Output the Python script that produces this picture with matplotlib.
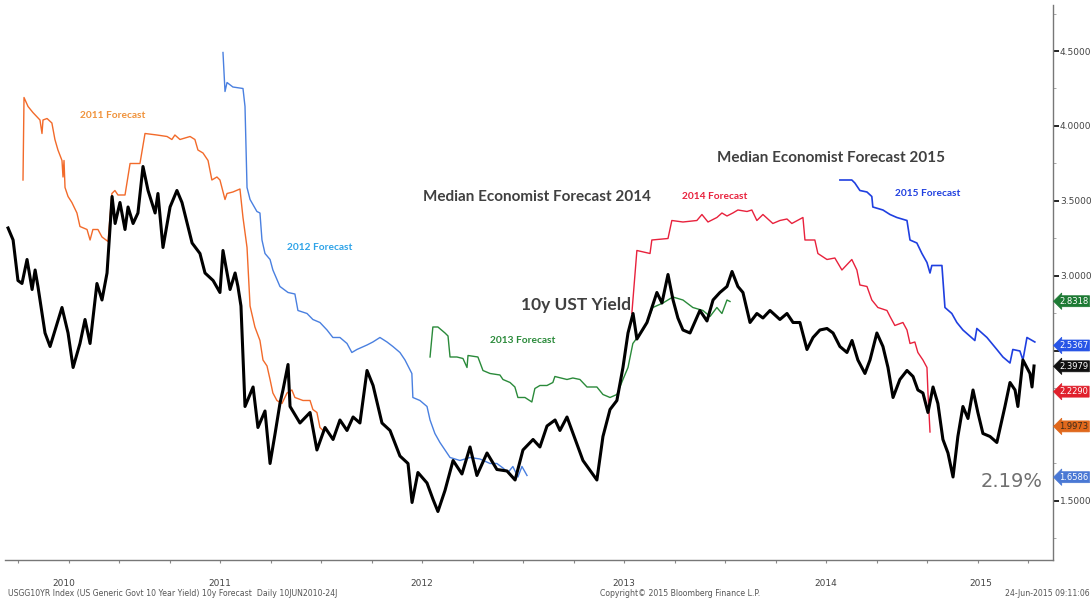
import numpy as np
import matplotlib
matplotlib.use("Agg")
import matplotlib.pyplot as plt

# dates as decimal years, values in percent
ust_t = [2010.450, 2010.475, 2010.499, 2010.519, 2010.544, 2010.569, 2010.584, 2010.598,
         2010.633, 2010.658, 2010.683, 2010.717, 2010.747, 2010.772, 2010.806, 2010.831,
         2010.856, 2010.890, 2010.915, 2010.940, 2010.965, 2010.980, 2011.004, 2011.029,
         2011.044, 2011.069, 2011.093, 2011.118, 2011.143, 2011.178, 2011.192, 2011.217,
         2011.252, 2011.286, 2011.311, 2011.361, 2011.400, 2011.425, 2011.465, 2011.499,
         2011.514, 2011.549, 2011.574, 2011.588, 2011.603, 2011.623, 2011.663, 2011.687,
         2011.722, 2011.747, 2011.772, 2011.796, 2011.811, 2011.836, 2011.846, 2011.895,
         2011.945, 2011.979, 2012.019, 2012.059, 2012.093, 2012.128, 2012.158, 2012.192,
         2012.227, 2012.257, 2012.301, 2012.341, 2012.390, 2012.430, 2012.450, 2012.479,
         2012.524, 2012.554, 2012.578, 2012.613, 2012.653, 2012.697, 2012.737, 2012.771,
         2012.821, 2012.870, 2012.920, 2012.960, 2012.999, 2013.049, 2013.083, 2013.118,
         2013.158, 2013.182, 2013.217, 2013.247, 2013.296, 2013.365, 2013.395, 2013.430,
         2013.464, 2013.494, 2013.519, 2013.544, 2013.563, 2013.613, 2013.662, 2013.687,
         2013.717, 2013.742, 2013.766, 2013.791, 2013.826, 2013.875, 2013.910, 2013.940,
         2013.974, 2014.009, 2014.034, 2014.063, 2014.088, 2014.123, 2014.157, 2014.187,
         2014.222, 2014.271, 2014.306, 2014.336, 2014.370, 2014.405, 2014.435, 2014.469,
         2014.504, 2014.534, 2014.568, 2014.603, 2014.628, 2014.657, 2014.692, 2014.717,
         2014.751, 2014.781, 2014.806, 2014.831, 2014.865, 2014.900, 2014.930, 2014.954,
         2014.979, 2015.004, 2015.029, 2015.053, 2015.078, 2015.103, 2015.128, 2015.152,
         2015.177, 2015.202, 2015.227, 2015.251, 2015.276, 2015.311, 2015.345, 2015.360,
         2015.385, 2015.410, 2015.435, 2015.449, 2015.474, 2015.509, 2015.519, 2015.529]
ust_v = [3.32, 3.24, 2.97, 2.95, 3.11, 2.91, 3.04, 2.93,
         2.62, 2.53, 2.64, 2.79, 2.62, 2.39, 2.55, 2.71,
         2.55, 2.95, 2.84, 3.02, 3.53, 3.35, 3.49, 3.31,
         3.46, 3.35, 3.42, 3.73, 3.57, 3.42, 3.55, 3.19,
         3.46, 3.57, 3.49, 3.22, 3.15, 3.02, 2.97, 2.89,
         3.17, 2.91, 3.02, 2.93, 2.80, 2.13, 2.26, 1.99,
         2.10, 1.75, 1.95, 2.15, 2.24, 2.41, 2.13, 2.02,
         2.09, 1.84, 1.99, 1.91, 2.04, 1.97, 2.06, 2.02,
         2.37, 2.27, 2.02, 1.97, 1.80, 1.75, 1.49, 1.69,
         1.62, 1.51, 1.43, 1.57, 1.77, 1.68, 1.86, 1.67,
         1.82, 1.71, 1.70, 1.64, 1.84, 1.91, 1.86, 2.00,
         2.04, 1.97, 2.06, 1.95, 1.77, 1.64, 1.93, 2.11,
         2.17, 2.39, 2.62, 2.75, 2.58, 2.69, 2.89, 2.82,
         3.01, 2.84, 2.72, 2.64, 2.62, 2.77, 2.70, 2.84,
         2.89, 2.93, 3.03, 2.93, 2.89, 2.69, 2.75, 2.72,
         2.77, 2.71, 2.75, 2.69, 2.69, 2.51, 2.59, 2.64,
         2.65, 2.62, 2.53, 2.49, 2.57, 2.44, 2.35, 2.44,
         2.62, 2.53, 2.39, 2.19, 2.31, 2.37, 2.33, 2.24,
         2.22, 2.09, 2.26, 2.15, 1.91, 1.82, 1.66, 1.93,
         2.13, 2.05, 2.24, 2.09, 1.95, 1.93, 1.89, 1.98,
         2.13, 2.29, 2.24, 2.13, 2.44, 2.35, 2.26, 2.40]

f2011_t = [2010.524, 2010.529, 2010.549, 2010.573, 2010.608, 2010.618, 2010.623, 2010.643,
           2010.667, 2010.682, 2010.697, 2010.717, 2010.722, 2010.727, 2010.732, 2010.747,
           2010.766, 2010.791, 2010.806, 2010.841, 2010.856, 2010.870, 2010.895, 2010.915,
           2010.945, 2010.964, 2010.979, 2010.994, 2011.029, 2011.054, 2011.103, 2011.128,
           2011.187, 2011.237, 2011.261, 2011.276, 2011.301, 2011.351, 2011.375, 2011.390,
           2011.415, 2011.440, 2011.459, 2011.484, 2011.499, 2011.524, 2011.534, 2011.563,
           2011.598, 2011.613, 2011.633, 2011.648, 2011.672, 2011.697, 2011.712, 2011.732,
           2011.747, 2011.761, 2011.781, 2011.806, 2011.831, 2011.855, 2011.870, 2011.910,
           2011.945, 2011.959, 2011.979, 2011.994, 2012.009]
f2011_v = [3.64, 4.19, 4.13, 4.09, 4.04, 3.95, 4.04, 4.05,
           4.02, 3.91, 3.84, 3.77, 3.66, 3.77, 3.59, 3.53,
           3.49, 3.42, 3.33, 3.31, 3.24, 3.31, 3.31, 3.26,
           3.23, 3.55, 3.57, 3.54, 3.54, 3.75, 3.75, 3.95,
           3.94, 3.93, 3.91, 3.94, 3.91, 3.93, 3.91, 3.84,
           3.82, 3.77, 3.64, 3.66, 3.64, 3.51, 3.55, 3.56,
           3.58, 3.39, 3.19, 2.80, 2.66, 2.57, 2.44, 2.40,
           2.31, 2.22, 2.17, 2.15, 2.22, 2.24, 2.19, 2.17,
           2.17, 2.11, 2.09, 1.99, 1.97]

f2012_t = [2011.514, 2011.524, 2011.534, 2011.563, 2011.613, 2011.623, 2011.633, 2011.648,
           2011.682, 2011.697, 2011.707, 2011.722, 2011.747, 2011.761, 2011.796, 2011.836,
           2011.870, 2011.885, 2011.930, 2011.959, 2011.994, 2012.029, 2012.058, 2012.093,
           2012.128, 2012.152, 2012.177, 2012.227, 2012.256, 2012.291, 2012.326, 2012.355,
           2012.390, 2012.415, 2012.449, 2012.454, 2012.489, 2012.524, 2012.539, 2012.563,
           2012.588, 2012.623, 2012.638, 2012.687, 2012.737, 2012.786, 2012.836, 2012.870,
           2012.900, 2012.925, 2012.949, 2012.974, 2012.994, 2013.019]
f2012_v = [4.49, 4.23, 4.29, 4.26, 4.25, 4.13, 3.59, 3.51,
           3.43, 3.42, 3.24, 3.15, 3.11, 3.04, 2.93, 2.89,
           2.88, 2.77, 2.75, 2.71, 2.69, 2.64, 2.59, 2.59,
           2.55, 2.49, 2.51, 2.54, 2.56, 2.59, 2.56, 2.53,
           2.49, 2.44, 2.35, 2.19, 2.17, 2.13, 2.04, 1.95,
           1.89, 1.82, 1.79, 1.77, 1.79, 1.78, 1.75, 1.75,
           1.72, 1.69, 1.73, 1.66, 1.73, 1.67]

f2013_t = [2012.539, 2012.553, 2012.578, 2012.613, 2012.628, 2012.638, 2012.672, 2012.702,
           2012.722, 2012.727, 2012.776, 2012.801, 2012.836, 2012.885, 2012.900, 2012.935,
           2012.959, 2012.974, 2013.009, 2013.043, 2013.058, 2013.083, 2013.118, 2013.147,
           2013.157, 2013.217, 2013.246, 2013.281, 2013.316, 2013.365, 2013.395, 2013.430,
           2013.464, 2013.494, 2013.519, 2013.543, 2013.593, 2013.613, 2013.642, 2013.692,
           2013.741, 2013.791, 2013.840, 2013.890, 2013.925, 2013.959, 2013.984, 2014.009,
           2014.024]
f2013_v = [2.46, 2.66, 2.66, 2.62, 2.60, 2.46, 2.46, 2.45,
           2.39, 2.47, 2.46, 2.37, 2.35, 2.34, 2.31, 2.29,
           2.26, 2.19, 2.19, 2.16, 2.25, 2.27, 2.27, 2.29,
           2.33, 2.31, 2.32, 2.31, 2.26, 2.26, 2.21, 2.19,
           2.21, 2.31, 2.39, 2.55, 2.64, 2.69, 2.79, 2.82,
           2.86, 2.84, 2.79, 2.77, 2.73, 2.79, 2.75, 2.84,
           2.83]

f2014_t = [2013.538, 2013.563, 2013.628, 2013.637, 2013.717, 2013.736, 2013.791, 2013.860,
           2013.885, 2013.915, 2013.959, 2013.984, 2014.009, 2014.038, 2014.063, 2014.108,
           2014.132, 2014.157, 2014.187, 2014.236, 2014.271, 2014.306, 2014.330, 2014.385,
           2014.395, 2014.444, 2014.459, 2014.504, 2014.543, 2014.578, 2014.627, 2014.652,
           2014.667, 2014.702, 2014.726, 2014.756, 2014.801, 2014.816, 2014.840, 2014.880,
           2014.900, 2014.915, 2014.939, 2014.954, 2014.979, 2014.999, 2015.004, 2015.014]
f2014_v = [2.75, 3.17, 3.15, 3.24, 3.25, 3.37, 3.36, 3.37,
           3.41, 3.36, 3.39, 3.42, 3.40, 3.42, 3.44, 3.43,
           3.44, 3.37, 3.41, 3.35, 3.37, 3.38, 3.35, 3.39,
           3.24, 3.24, 3.15, 3.11, 3.12, 3.04, 3.11, 3.04,
           2.94, 2.93, 2.84, 2.79, 2.77, 2.73, 2.67, 2.69,
           2.64, 2.55, 2.56, 2.49, 2.44, 2.39, 2.22, 1.96]

f2015_t = [2014.568, 2014.627, 2014.642, 2014.667, 2014.702, 2014.726, 2014.731, 2014.781,
           2014.816, 2014.850, 2014.900, 2014.915, 2014.949, 2014.974, 2014.999, 2015.014,
           2015.023, 2015.073, 2015.088, 2015.122, 2015.147, 2015.177, 2015.236, 2015.246,
           2015.296, 2015.345, 2015.375, 2015.410, 2015.424, 2015.459, 2015.474, 2015.494,
           2015.533]
f2015_v = [3.64, 3.64, 3.62, 3.57, 3.56, 3.53, 3.46, 3.44,
           3.41, 3.39, 3.37, 3.24, 3.22, 3.15, 3.09, 3.02,
           3.07, 3.07, 2.79, 2.75, 2.69, 2.64, 2.57, 2.65,
           2.59, 2.51, 2.46, 2.42, 2.51, 2.50, 2.44, 2.59,
           2.56]

# last-value tags on the right axis
tag_values = [2.8318, 2.5367, 2.3979, 2.2290, 1.9973, 1.6586]
tag_colors = ["#1d7a34", "#2855e6", "#111111", "#e0202c", "#e0681c", "#4a78d4"]
tag_text_colors = ["white", "white", "white", "white", "#3a2a1a", "white"]

years = [2010, 2011, 2012, 2013, 2014, 2015]

fig = plt.figure(figsize=(10.92, 6.02), dpi=100)
ax = fig.add_axes([0.0046, 0.0698, 0.9597, 0.9219])

ax.plot(f2011_t, f2011_v, color="#f26a2a", lw=1.0)
ax.plot(f2012_t, f2012_v, color="#4a80e0", lw=1.0)
ax.plot(f2013_t, f2013_v, color="#2a8a3a", lw=1.0)
ax.plot(f2014_t, f2014_v, color="#e8213c", lw=1.0)
ax.plot(f2015_t, f2015_v, color="#1f3fe0", lw=1.2)
ax.plot(ust_t, ust_v, color="black", lw=2.2)

ax.set_xlim(2010.435, 2015.623)
ax.set_ylim(1.1067, 4.8067)

for s in ["left", "top"]:
    ax.spines[s].set_visible(False)
for s in ["right", "bottom"]:
    ax.spines[s].set_color("#777777")
    ax.spines[s].set_linewidth(1.0)

# labels at 2.0 and 2.5 sit under the value tags
ax.yaxis.tick_right()
ax.set_yticks(np.arange(1.5, 4.51, 0.5))
ax.set_yticks(np.arange(1.25, 4.8, 0.25), minor=True)
ax.yaxis.set_major_formatter(matplotlib.ticker.FuncFormatter(
    lambda v, p: "" if abs(v - 2.0) < 1e-6 or abs(v - 2.5) < 1e-6 else "%.4f" % v))
ax.tick_params(axis="y", which="major", direction="out", length=4, width=1.2,
               color="black", labelsize=6.5, labelcolor="#444444", pad=1)
ax.tick_params(axis="y", which="minor", direction="out", length=2, width=0.6, color="#999999")

ax.set_xticks([])
ax.set_xticks(np.arange(2010.5, 2015.6, 0.25), minor=True)
ax.tick_params(axis="x", which="minor", direction="out", length=2, width=0.8, color="#888888")

# year labels centred on each year's part of the data
start, end = ust_t[0], ust_t[-1]
for yr in years:
    lo, hi = max(yr, start), min(yr + 1, end)
    ax.text((lo + hi) / 2, -0.043, str(yr), transform=ax.get_xaxis_transform(),
            ha="center", va="center", fontsize=6.5, color="#444444")

for v, c, tc in zip(tag_values, tag_colors, tag_text_colors):
    ax.annotate("%.4f" % v, xy=(1.0, v), xycoords=("axes fraction", "data"),
                xytext=(4.5, 0), textcoords="offset points", ha="left", va="center",
                fontsize=6.0, color=tc, annotation_clip=False, zorder=5,
                bbox=dict(boxstyle="larrow,pad=0.12", fc=c, ec=c, lw=0.5))

big = dict(family="Lato", weight="bold", color="#404040", ha="center", va="center")
ax.text(2013.068, 3.527, "Median Economist Forecast 2014", fontsize=11, **big)
ax.text(2014.523, 3.787, "Median Economist Forecast 2015", fontsize=11, **big)
ax.text(2013.26, 2.807, "10y UST Yield", fontsize=12.5, **big)

small = dict(family="Lato", weight="bold", fontsize=7.3, ha="center", va="center")
ax.text(2010.969, 4.067, "2011 Forecast", color="#f0923a", **small)
ax.text(2011.994, 3.193, "2012 Forecast", color="#2ea3e8", **small)
ax.text(2012.999, 2.573, "2013 Forecast", color="#2a8a3a", **small)
ax.text(2013.949, 3.533, "2014 Forecast", color="#e8213c", **small)
ax.text(2015.004, 3.553, "2015 Forecast", color="#1f3fe0", **small)

ax.text(2015.419, 1.627, "2.19%", fontsize=14, color="#707070", ha="center", va="center")

fig.text(8 / 1092, 1 - 593 / 602, "USGG10YR Index (US Generic Govt 10 Year Yield) 10y Forecast  Daily 10JUN2010-24J",
         fontsize=5.6, color="#555555", ha="left", va="center")
fig.text(600 / 1092, 1 - 593 / 602, "Copyright\u00a9 2015 Bloomberg Finance L.P.",
         fontsize=5.6, color="#555555", ha="left", va="center")
fig.text(1090 / 1092, 1 - 593 / 602, "24-Jun-2015 09:11:06",
         fontsize=5.6, color="#555555", ha="right", va="center")

fig.savefig("out.png", dpi=100, facecolor="white")
